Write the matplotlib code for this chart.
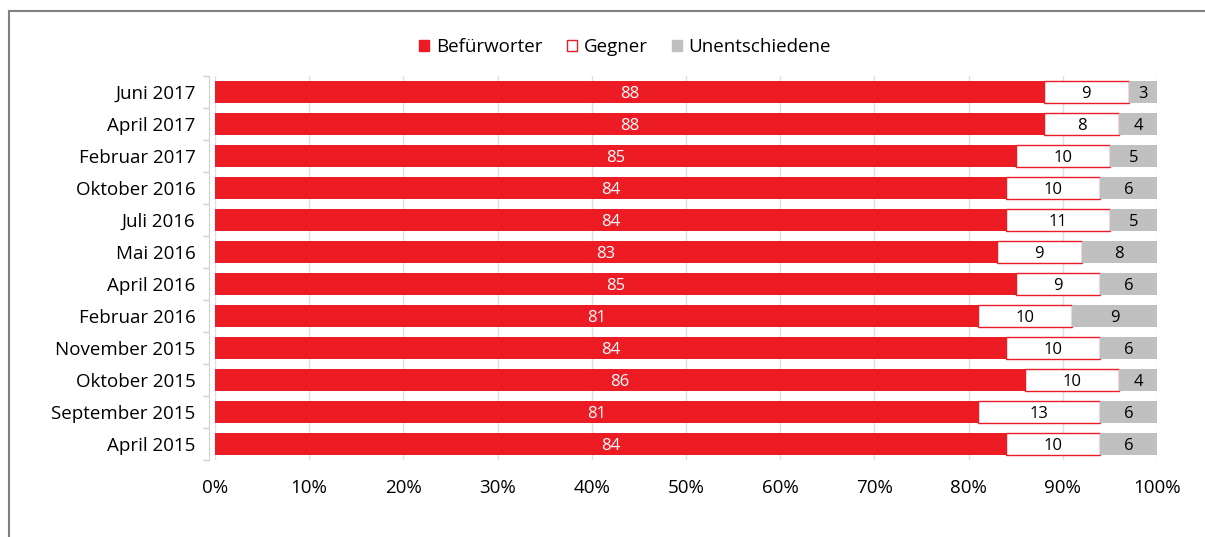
import matplotlib
matplotlib.use("Agg")
import matplotlib.pyplot as plt
from matplotlib.patches import Patch
from matplotlib.lines import Line2D

categories = ["Juni 2017", "April 2017", "Februar 2017", "Oktober 2016", "Juli 2016",
              "Mai 2016", "April 2016", "Februar 2016", "November 2015", "Oktober 2015",
              "September 2015", "April 2015"]
befuerworter = [88, 88, 85, 84, 84, 83, 85, 81, 84, 86, 81, 84]
gegner = [9, 8, 10, 10, 11, 9, 9, 10, 10, 10, 13, 10]
unentschieden = [3, 4, 5, 6, 5, 8, 6, 9, 6, 4, 6, 6]
xticks = [0, 10, 20, 30, 40, 50, 60, 70, 80, 90, 100]
xticklabels = ["0%", "10%", "20%", "30%", "40%", "50%", "60%", "70%", "80%", "90%", "100%"]

RED = "#ED1C24"
GRAY = "#C0C0C0"
plt.rcParams["font.family"] = ["Open Sans", "DejaVu Sans"]

fig = plt.figure(figsize=(12.05, 5.37), dpi=100)
W, H = 1205, 537
ax = fig.add_axes([215 / W, 1 - 460 / H, (1157 - 215) / W, (460 - 76) / H])

# frame around the chart
fig.add_artist(Line2D([9 / W, 9 / W], [0, 1 - 11 / H], color="#808080", lw=1.5,
                      transform=fig.transFigure))
fig.add_artist(Line2D([9 / W, 1], [1 - 11 / H, 1 - 11 / H], color="#808080", lw=1.5,
                      transform=fig.transFigure))

y = list(range(len(categories)))
h = 0.7
ax.barh(y, befuerworter, height=h, color=RED, zorder=3)
left2 = [b for b in befuerworter]
ax.barh(y, gegner, left=left2, height=h, color="white", edgecolor=RED, linewidth=1.0, zorder=3)
left3 = [b + g for b, g in zip(befuerworter, gegner)]
ax.barh(y, unentschieden, left=left3, height=h, color=GRAY, zorder=3)

for i in y:
    ax.text(befuerworter[i] / 2, i, str(befuerworter[i]), ha="center", va="center_baseline",
            color="white", fontsize=12, zorder=4)
    ax.text(left2[i] + gegner[i] / 2, i, str(gegner[i]), ha="center", va="center_baseline",
            color="black", fontsize=12, zorder=4)
    ax.text(left3[i] + unentschieden[i] / 2, i, str(unentschieden[i]), ha="center",
            va="center_baseline", color="black", fontsize=12, zorder=4)

ax.set_xlim(0, 100)
ax.set_ylim(len(categories) - 0.5, -0.5)
ax.set_yticks(y)
ax.set_yticklabels(categories)
ax.set_yticks([i - 0.5 for i in range(len(categories) + 1)], minor=True)
ax.tick_params(axis="y", which="major", length=0, pad=10, labelsize=13.5)
ax.tick_params(axis="y", which="minor", length=4, color="#d0d0d0", width=1)
ax.set_xticks(xticks)
ax.set_xticklabels(xticklabels)
ax.tick_params(axis="x", length=0, pad=14, labelsize=13.5)
ax.grid(axis="x", color="#e0e0e0", lw=1, zorder=0)
for s in ["top", "right", "bottom"]:
    ax.spines[s].set_visible(False)
ax.spines["left"].set_color("#d0d0d0")
ax.spines["left"].set_position(("outward", 4))

handles = [Patch(facecolor=RED, edgecolor=RED),
           Patch(facecolor="white", edgecolor=RED),
           Patch(facecolor=GRAY, edgecolor=GRAY)]
fig.legend(handles, ["Befürworter", "Gegner", "Unentschiedene"], loc="center",
           bbox_to_anchor=(625 / W, 1 - 47 / H), ncol=3, frameon=False, fontsize=13.5,
           handlelength=0.55, handleheight=0.55, handletextpad=0.35, columnspacing=1.3)

fig.savefig("out.png", dpi=100)
